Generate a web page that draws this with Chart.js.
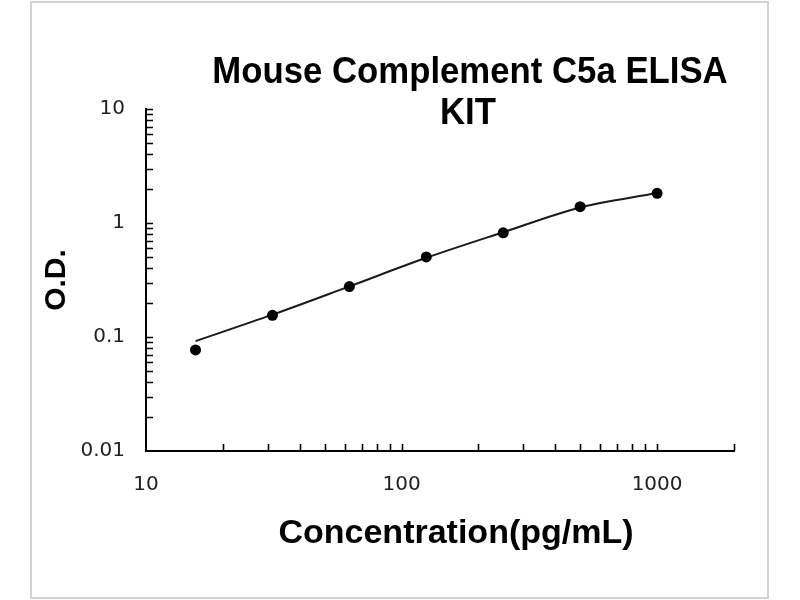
<!DOCTYPE html>
<html>
<head>
<meta charset="utf-8">
<script src="https://cdn.jsdelivr.net/npm/chart.js@4.4.1/dist/chart.umd.min.js"></script>
<style>
  html, body { margin: 0; padding: 0; background: #fff; }
  canvas { display: block; }
</style>
</head>
<body>
<canvas id="chart" width="800" height="600"></canvas>
<script>

// standard concentrations (pg/mL) and measured O.D.
const concentrations = [15.625, 31.25, 62.5, 125, 250, 500, 1000];
const odValues = [0.077, 0.155, 0.277, 0.504, 0.82, 1.39, 1.82];

// fitted curve at the same concentrations
const curveValues = [0.092, 0.157, 0.278, 0.495, 0.83, 1.37, 1.83];

// labelled ticks
const xTickLabels = [10, 100, 1000];
const yTickLabels = [0.01, 0.1, 1, 10];

// small inward tick marks
const xTickMarks = [20, 30, 40, 50, 60, 70, 80, 90, 100, 200, 300, 400, 500, 600, 700, 800, 900, 1000, 2000];
const yTickMarks = [0.02, 0.03, 0.04, 0.05, 0.06, 0.07, 0.08, 0.09, 0.1,
                    0.2, 0.3, 0.4, 0.5, 0.6, 0.7, 0.8, 0.9, 1,
                    2, 3, 4, 5, 6, 7, 8, 9, 10];

const titleLines = ['Mouse Complement C5a ELISA', 'KIT'];
const xTitle = 'Concentration(pg/mL)';
const yTitle = 'O.D.';

const tickFont = { family: '"DejaVu Sans", sans-serif', size: 20 };

const decorations = {
    id: 'decorations',

    beforeDraw(chart) {
        const ctx = chart.ctx;
        ctx.save();
        ctx.fillStyle = '#fff';
        ctx.fillRect(0, 0, chart.width, chart.height);
        ctx.strokeStyle = '#d2d2d2';
        ctx.lineWidth = 2;
        ctx.strokeRect(31, 2, 737, 596);
        ctx.restore();
    },

    afterDraw(chart) {
        const ctx = chart.ctx;
        const x = chart.scales.x;
        const y = chart.scales.y;
        const area = chart.chartArea;

        // inward ticks
        ctx.save();
        ctx.strokeStyle = '#000';
        ctx.lineWidth = 1.6;
        ctx.beginPath();
        xTickMarks.forEach(v => {
            const px = Math.round(x.getPixelForValue(v)) + 0.5;
            ctx.moveTo(px, area.bottom);
            ctx.lineTo(px, area.bottom - 7);
        });
        yTickMarks.forEach(v => {
            const py = Math.round(y.getPixelForValue(v)) + 0.5;
            ctx.moveTo(area.left, py);
            ctx.lineTo(area.left + 7, py);
        });
        ctx.stroke();

        // chart title, slightly condensed like the original
        ctx.fillStyle = '#000';
        ctx.textAlign = 'center';
        ctx.textBaseline = 'alphabetic';
        ctx.font = 'bold 36px "Liberation Sans", Arial, sans-serif';
        ctx.save();
        ctx.translate(470, 83);
        ctx.scale(0.965, 1);
        ctx.fillText(titleLines[0], 0, 0);
        ctx.restore();
        ctx.save();
        ctx.translate(468, 124);
        ctx.scale(0.965, 1);
        ctx.fillText(titleLines[1], 0, 0);
        ctx.restore();

        // x axis title
        ctx.font = 'bold 34px "Liberation Sans", Arial, sans-serif';
        ctx.fillText(xTitle, 456, 543);
        ctx.restore();
    }
};

const ctx = document.getElementById('chart');

new Chart(ctx, {
    type: 'scatter',
    data: {
        datasets: [
            {
                label: 'fit',
                data: concentrations.map((c, i) => ({ x: c, y: curveValues[i] })),
                showLine: true,
                cubicInterpolationMode: 'monotone',
                borderColor: '#1a1a1a',
                borderWidth: 2,
                pointRadius: 0,
                order: 2
            },
            {
                label: 'standards',
                data: concentrations.map((c, i) => ({ x: c, y: odValues[i] })),
                showLine: false,
                pointRadius: 5.5,
                pointBackgroundColor: '#000',
                pointBorderColor: '#000',
                pointBorderWidth: 0,
                order: 1
            }
        ]
    },
    options: {
        responsive: false,
        animation: false,
        devicePixelRatio: 1,
        layout: { padding: { left: 0, right: 66, top: 109, bottom: 0 } },
        plugins: {
            legend: { display: false },
            tooltip: { enabled: false },
            title: { display: false }
        },
        scales: {
            x: {
                type: 'logarithmic',
                min: 10,
                max: 2000,
                afterBuildTicks: s => { s.ticks = xTickLabels.map(v => ({ value: v })); },
                afterFit: s => { s.height = 149; },
                grid: { display: false, drawTicks: false },
                border: { display: true, color: '#000', width: 2 },
                ticks: {
                    autoSkip: false,
                    maxRotation: 0,
                    padding: 22,
                    color: '#222',
                    font: tickFont,
                    callback: v => String(v)
                }
            },
            y: {
                type: 'logarithmic',
                min: 0.01,
                max: 10,
                afterBuildTicks: s => { s.ticks = yTickLabels.map(v => ({ value: v })); },
                afterFit: s => { s.width = 146; },
                grid: { display: false, drawTicks: false },
                border: { display: true, color: '#000', width: 2 },
                title: {
                    display: true,
                    text: yTitle,
                    color: '#000',
                    font: { family: '"Liberation Sans", Arial, sans-serif', size: 30, weight: 'bold' },
                    padding: { top: 39, bottom: 0 }
                },
                ticks: {
                    autoSkip: false,
                    padding: 21,
                    color: '#222',
                    font: tickFont,
                    callback: v => String(v)
                }
            }
        }
    },
    plugins: [decorations]
});

</script>
</body>
</html>
